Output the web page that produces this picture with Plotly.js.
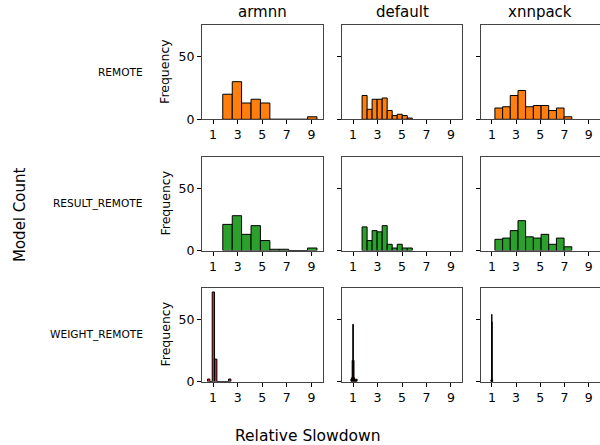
<!DOCTYPE html>
<html>
<head>
<meta charset="utf-8">
<script src="https://cdn.plot.ly/plotly-3.0.1.min.js"></script>
<style>html,body{margin:0;padding:0;background:#fff}#chart{width:600px;height:445px}</style>
</head>
<body>
<div id="chart"></div>
<script>
// ---- data ----
const backends = ["armnn", "default", "xnnpack"];
const modes = ["REMOTE", "RESULT_REMOTE", "WEIGHT_REMOTE"];
const xTicks = [1, 3, 5, 7, 9];
const yTicks = [0, 50];

// bin edges (11 each) and counts (10 each) per panel
const remoteArmnnEdges   = [1.79, 2.56, 3.32, 4.09, 4.85, 5.62, 6.39, 7.15, 7.92, 8.68, 9.45];
const remoteArmnnCounts  = [20, 30, 13, 16, 13, 0, 0, 0, 0, 2];
const remoteDefaultEdges  = [1.74, 2.15, 2.56, 2.97, 3.38, 3.79, 4.20, 4.61, 5.02, 5.43, 5.84];
const remoteDefaultCounts = [19, 8, 16, 16, 17, 7, 3, 4, 3, 1];
const remoteXnnEdges   = [1.25, 1.89, 2.52, 3.16, 3.79, 4.43, 5.07, 5.70, 6.34, 6.97, 7.61];
const remoteXnnCounts  = [9, 10, 19, 23, 10, 11, 11, 7, 9, 2];

const resultArmnnEdges   = [1.79, 2.56, 3.32, 4.09, 4.85, 5.62, 6.39, 7.15, 7.92, 8.68, 9.45];
const resultArmnnCounts  = [21, 28, 13, 20, 8, 1, 1, 0, 0, 2];
const resultDefaultEdges  = [1.74, 2.15, 2.56, 2.97, 3.38, 3.79, 4.20, 4.61, 5.02, 5.43, 5.84];
const resultDefaultCounts = [19, 8, 16, 15, 20, 5, 2, 5, 2, 2];
const resultXnnEdges   = [1.25, 1.89, 2.52, 3.16, 3.79, 4.43, 5.07, 5.70, 6.34, 6.97, 7.61];
const resultXnnCounts  = [9, 10, 16, 24, 11, 10, 13, 5, 10, 3];

const weightArmnnEdges   = [0.55, 0.74, 0.93, 1.12, 1.31, 1.50, 1.69, 1.88, 2.07, 2.26, 2.45];
const weightArmnnCounts  = [2, 0, 72, 18, 0, 0, 0, 0, 0, 2];
const weightDefaultEdges  = [0.83, 0.88, 0.93, 0.98, 1.03, 1.08, 1.13, 1.18, 1.23, 1.28, 1.33];
const weightDefaultCounts = [2, 3, 17, 46, 17, 3, 2, 1, 1, 2];
const weightXnnEdges   = [0.930, 0.944, 0.958, 0.972, 0.986, 1.000, 1.014, 1.028, 1.042, 1.056, 1.070];
const weightXnnCounts  = [1, 1, 2, 3, 54, 48, 1, 0, 0, 1];

const panels = [
  [[remoteArmnnEdges, remoteArmnnCounts], [remoteDefaultEdges, remoteDefaultCounts], [remoteXnnEdges, remoteXnnCounts]],
  [[resultArmnnEdges, resultArmnnCounts], [resultDefaultEdges, resultDefaultCounts], [resultXnnEdges, resultXnnCounts]],
  [[weightArmnnEdges, weightArmnnCounts], [weightDefaultEdges, weightDefaultCounts], [weightXnnEdges, weightXnnCounts]]
];

// ---- styling / layout ----
const rowColors = ["#ff7f0e", "#2ca02c", "#d62728"];
const W = 600, H = 445;
const colPx = [[202, 322.5], [342, 462], [481, 599.5]];
const rowPx = [[24.5, 119.3], [156.5, 250.5], [287.5, 381.5]];
const font = "DejaVu Sans, sans-serif";

const traces = [];
const layout = {
  width: W, height: H,
  margin: {l: 0, r: 0, t: 0, b: 0},
  paper_bgcolor: "#fff", plot_bgcolor: "#fff",
  showlegend: false,
  font: {family: font, color: "#000", size: 12.5},
  annotations: []
};

for (let r = 0; r < 3; r++) {
  for (let c = 0; c < 3; c++) {
    const idx = r * 3 + c + 1;
    const xa = idx === 1 ? "x" : "x" + idx;
    const ya = idx === 1 ? "y" : "y" + idx;
    const [edges, counts] = panels[r][c];
    const xs = [], ws = [];
    for (let i = 0; i < counts.length; i++) {
      xs.push((edges[i] + edges[i + 1]) / 2);
      ws.push(edges[i + 1] - edges[i]);
    }
    traces.push({
      type: "bar", x: xs, y: counts, width: ws,
      xaxis: xa, yaxis: ya,
      marker: {color: rowColors[r], line: {color: "#000", width: 1}},
      hoverinfo: "skip"
    });
    const axCommon = {
      showline: true, linecolor: "#444", linewidth: 1, mirror: true,
      showgrid: false, zeroline: false,
      ticks: "outside", ticklen: 4, tickwidth: 1, tickcolor: "#000",
      tickfont: {family: font, size: 12.5, color: "#000"},
      fixedrange: true
    };
    layout["xaxis" + (idx === 1 ? "" : idx)] = Object.assign({}, axCommon, {
      domain: [colPx[c][0] / W, colPx[c][1] / W],
      anchor: ya, range: [0.1, 9.9],
      tickmode: "array", tickvals: xTicks, ticktext: xTicks.map(String)
    });
    layout["yaxis" + (idx === 1 ? "" : idx)] = Object.assign({}, axCommon, {
      domain: [1 - rowPx[r][1] / H, 1 - rowPx[r][0] / H],
      anchor: xa, range: [0, 75.6],
      tickmode: "array", tickvals: yTicks, ticktext: yTicks.map(String),
      showticklabels: c === 0
    });
  }
  const yMid = 1 - ((rowPx[r][0] + rowPx[r][1]) / 2) / H;
  layout.annotations.push({
    text: "Frequency", xref: "paper", yref: "paper",
    x: 165 / W, y: yMid, xanchor: "center", yanchor: "middle",
    textangle: -90, showarrow: false, font: {family: font, size: 12.5}
  });
  layout.annotations.push({
    text: modes[r], xref: "paper", yref: "paper",
    x: 145 / W, y: yMid, xanchor: "right", yanchor: "middle",
    showarrow: false, font: {family: font, size: 10.6}
  });
}
for (let c = 0; c < 3; c++) {
  layout.annotations.push({
    text: backends[c], xref: "paper", yref: "paper",
    x: ((colPx[c][0] + colPx[c][1]) / 2) / W, y: 1 - 12 / H,
    xanchor: "center", yanchor: "middle", showarrow: false,
    font: {family: font, size: 15}
  });
}
layout.annotations.push({
  text: "Model Count", xref: "paper", yref: "paper",
  x: 20 / W, y: 1 - 215 / H, xanchor: "center", yanchor: "middle",
  textangle: -90, showarrow: false, font: {family: font, size: 15}
});
layout.annotations.push({
  text: "Relative Slowdown", xref: "paper", yref: "paper",
  x: 308 / W, y: 1 - 436 / H, xanchor: "center", yanchor: "middle",
  showarrow: false, font: {family: font, size: 15.5}
});

Plotly.newPlot("chart", traces, layout, {displayModeBar: false, staticPlot: true});
</script>
</body>
</html>
